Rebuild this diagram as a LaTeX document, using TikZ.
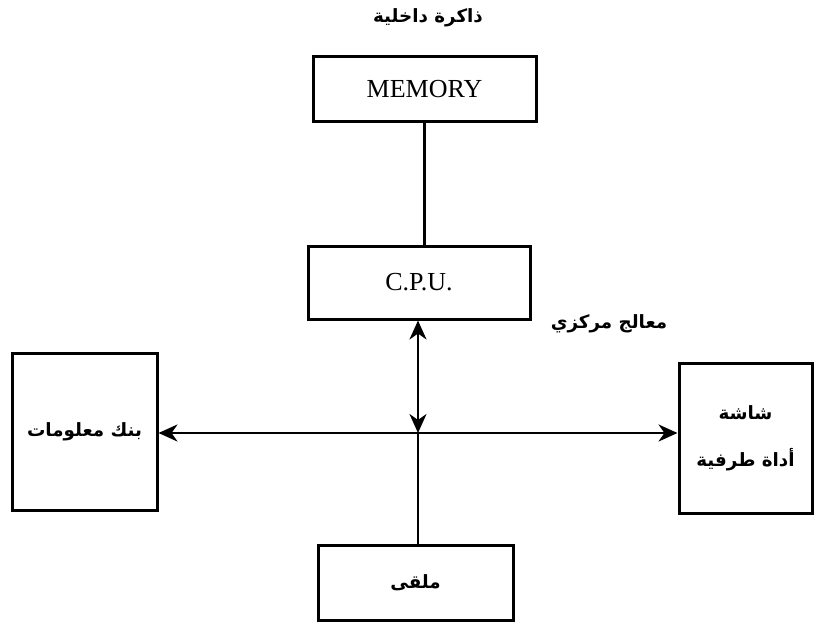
\documentclass[tikz,border=0pt]{standalone}
\usepackage{fontspec}
\setmainfont{Liberation Serif}
\newfontfamily\arabicfont[Script=Arabic]{DejaVu Sans}
\TeXXeTstate=1
\usetikzlibrary{arrows.meta}
\tikzset{
  box/.style={draw, line width=3pt, inner sep=0pt, font=\fontsize{26}{30}\selectfont},
  conn/.style={line width=2.6pt},
  tips/.style={conn, {Stealth[length=19pt,width=17pt,inset=6pt]}-{Stealth[length=19pt,width=17pt,inset=6pt]}},
  ar/.style={font=\arabicfont\bfseries\fontsize{18.3}{47}\selectfont, align=center}
}
\begin{document}
\begin{tikzpicture}[x=1pt,y=-1pt]
\useasboundingbox (0,0) rectangle (823,626);
\node[box, minimum width=223pt, minimum height=65pt] (mem) at (424.5,89.5) {MEMORY};
\node[ar] (memlbl) at (428,18) {\beginR ذاكرة داخلية\endR};
\node[box, minimum width=222pt, minimum height=73pt] (cpu) at (419,282.5) {C.P.U.};
\node[ar] (cpulbl) at (609,324) {\beginR معالج مركزي\endR};
\node[box, ar, minimum width=145pt, minimum height=157pt] (left) at (84.5,431.5) {\beginR بنك معلومات\endR};
\node[box, ar, minimum width=133pt, minimum height=150pt] (right) at (745.5,438) {\beginR شاشة\endR\\\beginR أداة طرفية\endR};
\node[box, ar, minimum width=195pt, minimum height=75pt] (bot) at (415.5,582.5) {\beginR ملقى\endR};
\coordinate (j) at (418,433);
\draw[conn] (mem.south) -- (cpu.north -| mem.south);
\draw[tips] (cpu.south -| j) -- (j);
\draw[tips] (left.east |- j) -- (right.west |- j);
\draw[conn] (bot.north -| j) -- (j);
\end{tikzpicture}
\end{document}
